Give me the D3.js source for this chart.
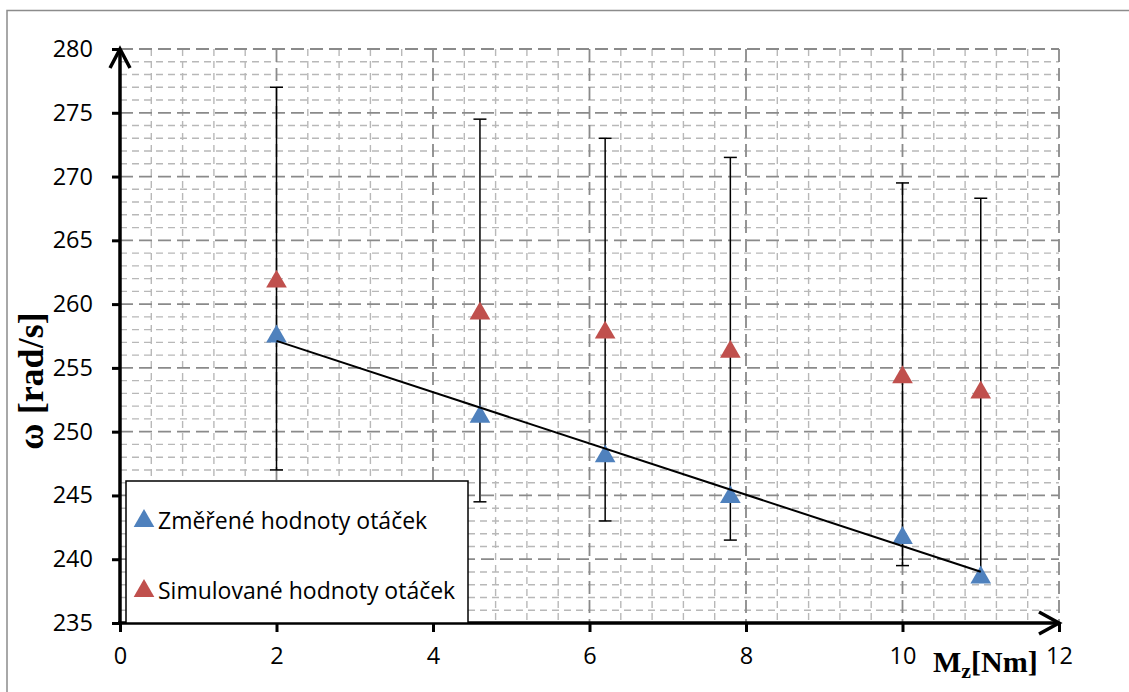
<!DOCTYPE html>
<html>
<head>
<meta charset="utf-8">
<script src="https://cdn.jsdelivr.net/npm/d3@7"></script>
<style>
  body { margin: 0; background: #fff; }
  svg { display: block; }
</style>
</head>
<body>
<div id="chart"></div>
<script>
// torque values [Nm]
const torque = [2, 4.6, 6.2, 7.8, 10, 11];
// measured speed (blue)
const measured = [257.7, 251.4, 248.3, 245.1, 241.9, 238.8];
// simulated speed (red)
const simulated = [262, 259.5, 258, 256.5, 254.5, 253.3];
// error bar ends on simulated series
const errHigh = [277, 274.5, 273, 271.5, 269.5, 268.3];
const errLow = [247, 244.5, 243, 241.5, 239.5, 238.3];
const xTicks = [0, 2, 4, 6, 8, 10, 12];
const yTicks = [235, 240, 245, 250, 255, 260, 265, 270, 275, 280];
const legendLabels = ["Změřené hodnoty otáček", "Simulované hodnoty otáček"];
const colors = ["#4F81BD", "#C0504D"];

const W = 1129, H = 692;
const pL = 120, pR = 1059, pT = 49, pB = 623;

const svg = d3.select("#chart").append("svg")
  .attr("width", W)
  .attr("height", H);

svg.append("rect").attr("width", W).attr("height", H).attr("fill", "#fff");
// outer frame (runs off the right and bottom edges)
svg.append("rect")
  .attr("x", 7).attr("y", 10.5)
  .attr("width", 1200).attr("height", 800)
  .attr("fill", "none").attr("stroke", "#8c8c8c").attr("stroke-width", 1.5);

let x = d3.scaleLinear().domain([0, 12]).range([pL, pR]);
let y = d3.scaleLinear().domain([235, 280]).range([pB, pT]);

// grid: minor first then major
let grid = svg.append("g");
const xMinor = d3.range(0, 12.01, 0.4).filter(v => Math.abs(v / 2 - Math.round(v / 2)) > 0.01);
const yMinor = d3.range(235, 281, 1).filter(v => v % 5 !== 0);

grid.selectAll(".hmin").data(yMinor).enter().append("line")
  .attr("x1", pL).attr("x2", pR)
  .attr("y1", d => y(d)).attr("y2", d => y(d))
  .attr("stroke", "#b8b8b8").attr("stroke-width", 1.4).attr("stroke-dasharray", "7,5");
grid.selectAll(".vmin").data(xMinor).enter().append("line")
  .attr("x1", d => x(d)).attr("x2", d => x(d))
  .attr("y1", pT).attr("y2", pB)
  .attr("stroke", "#b8b8b8").attr("stroke-width", 1.4).attr("stroke-dasharray", "7,5");
grid.selectAll(".hmaj").data(yTicks).enter().append("line")
  .attr("x1", pL).attr("x2", pR)
  .attr("y1", d => y(d)).attr("y2", d => y(d))
  .attr("stroke", "#8a8a8a").attr("stroke-width", 1.8).attr("stroke-dasharray", "13,6");
grid.selectAll(".vmaj").data(xTicks.slice(1)).enter().append("line")
  .attr("x1", d => x(d)).attr("x2", d => x(d))
  .attr("y1", pT).attr("y2", pB)
  .attr("stroke", "#8a8a8a").attr("stroke-width", 1.8).attr("stroke-dasharray", "13,6");

// error bars
let eb = svg.append("g").attr("stroke", "#000").attr("stroke-width", 1.5);
torque.forEach((t, i) => {
  eb.append("line").attr("x1", x(t)).attr("x2", x(t))
    .attr("y1", y(errLow[i])).attr("y2", y(errHigh[i]));
  [errLow[i], errHigh[i]].forEach(v => {
    eb.append("line").attr("x1", x(t) - 6.5).attr("x2", x(t) + 6.5)
      .attr("y1", y(v)).attr("y2", y(v));
  });
});

// markers (shifted so the bounding box is centred on the value)
const tri = d3.symbol().type(d3.symbolTriangle).size(185);
const triShift = Math.sqrt(185 / (Math.sqrt(3) * 3)) / 2;
function drawSeries(vals, color) {
  svg.append("g").selectAll("path").data(vals).enter().append("path")
    .attr("d", tri)
    .attr("transform", (d, i) => `translate(${x(torque[i])},${y(d) + triShift})`)
    .attr("fill", color);
}
drawSeries(simulated, colors[1]);
drawSeries(measured, colors[0]);

// linear trendline of measured series
const mx = d3.mean(torque), my = d3.mean(measured);
const slope = d3.sum(torque, (t, i) => (t - mx) * (measured[i] - my)) /
  d3.sum(torque, t => (t - mx) * (t - mx));
const trend = t => my + slope * (t - mx);
svg.append("line")
  .attr("x1", x(torque[0])).attr("y1", y(trend(torque[0])))
  .attr("x2", x(torque[torque.length - 1])).attr("y2", y(trend(torque[torque.length - 1])))
  .attr("stroke", "#000").attr("stroke-width", 2);

// axes
const tickFont = "'Open Sans', 'Noto Sans', sans-serif";
let xAxis = d3.axisBottom(x).tickValues(xTicks).tickSize(9).tickPadding(15).tickFormat(d3.format("d"));
let yAxis = d3.axisLeft(y).tickValues(yTicks).tickSize(8).tickPadding(19).tickFormat(d3.format("d"));

let gx = svg.append("g").attr("transform", `translate(0,${pB})`).call(xAxis);
let gy = svg.append("g").attr("transform", `translate(${pL},0)`).call(yAxis);
[gx, gy].forEach(g => {
  g.select(".domain").remove();
  g.selectAll(".tick line").attr("stroke", "#000").attr("stroke-width", 3);
  g.selectAll("text").attr("fill", "#000").style("font-family", tickFont).style("font-size", "23.5px");
});

svg.append("line").attr("x1", pL - 2).attr("x2", pR).attr("y1", pB).attr("y2", pB)
  .attr("stroke", "#000").attr("stroke-width", 3.5);
svg.append("line").attr("x1", pL).attr("x2", pL).attr("y1", pB + 2).attr("y2", pT)
  .attr("stroke", "#000").attr("stroke-width", 3.5);
svg.append("path")
  .attr("d", `M${pL - 10},${pT + 19}L${pL},${pT}L${pL + 10},${pT + 19}`)
  .attr("fill", "none").attr("stroke", "#000").attr("stroke-width", 3.5);
svg.append("path")
  .attr("d", `M${pR - 20},${pB - 11}L${pR},${pB}L${pR - 20},${pB + 11}`)
  .attr("fill", "none").attr("stroke", "#000").attr("stroke-width", 3.5);

// axis titles
const serif = "'Liberation Serif', 'DejaVu Serif', serif";
svg.append("text")
  .attr("transform", "translate(43,381) rotate(-90)")
  .attr("text-anchor", "middle")
  .style("font-family", serif).style("font-weight", "bold").style("font-size", "36px")
  .text("ω [rad/s]");

let xt = svg.append("text")
  .attr("x", 933).attr("y", 672)
  .style("font-family", serif).style("font-weight", "bold").style("font-size", "30px");
xt.append("tspan").text("M");
xt.append("tspan").attr("dy", 6).style("font-size", "22px").text("z");
xt.append("tspan").attr("dy", -6).text("[Nm]");

// legend
let lg = svg.append("g").attr("transform", "translate(126,481)");
lg.append("rect").attr("width", 342).attr("height", 142)
  .attr("fill", "#fff").attr("stroke", "#000").attr("stroke-width", 1.5);
legendLabels.forEach((lab, i) => {
  let row = lg.append("g").attr("transform", `translate(0,${37 + i * 70})`);
  row.append("path").attr("d", tri).attr("transform", `translate(18,${triShift})`).attr("fill", colors[i]);
  row.append("text").attr("x", 32).attr("y", 11)
    .style("font-family", tickFont).style("font-size", "23px")
    .text(lab);
});
</script>
</body>
</html>
